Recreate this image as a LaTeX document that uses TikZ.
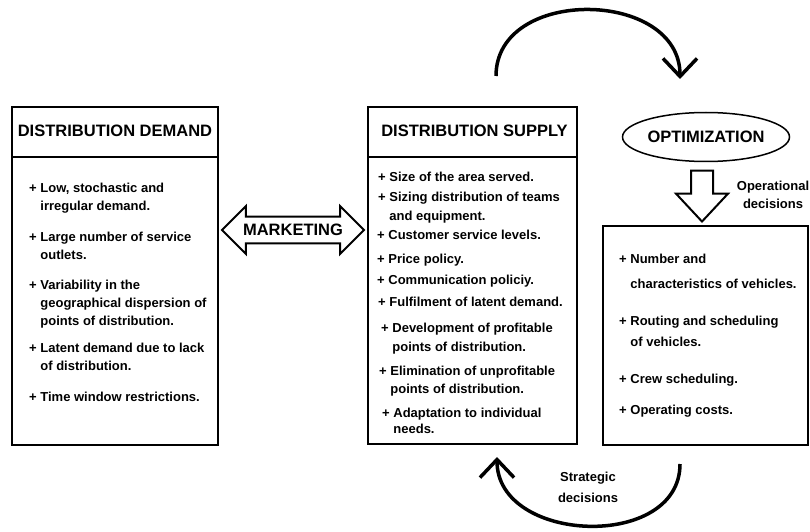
\documentclass[tikz,border=0pt]{standalone}
\usepackage{fontspec}
\setmainfont{Liberation Sans}
\usetikzlibrary{shapes.geometric,shapes.arrows,arrows.meta}

\begin{document}
\begin{tikzpicture}
[x=1pt,y=1pt,
 box/.style={draw,line width=2pt,inner sep=0pt},
 title/.style={font=\fontsize{16.5}{20}\selectfont\bfseries,inner sep=0pt,anchor=base},
 entry/.style={font=\fontsize{13}{18}\selectfont\bfseries,inner sep=0pt,anchor=base west,align=left},
 note/.style={font=\fontsize{13}{18}\selectfont\bfseries,inner sep=0pt,anchor=base,align=center},
 cyclearrow/.style={line width=3.5pt,-{Straight Barb[length=18pt,width=34pt]}}]
\useasboundingbox (0,0) rectangle (810,531);

% the three boxes
\node[box,minimum width=206,minimum height=338] (demand) at (115,255) {};
\node[box,minimum width=209,minimum height=337] (supply) at (472.5,255.5) {};
\node[box,minimum width=205,minimum height=219] (vehicles) at (705.5,195.5) {};
\coordinate (sep) at (0,374);
\draw[line width=2pt] (demand.west |- sep) -- (demand.east |- sep);
\draw[line width=2pt] (supply.west |- sep) -- (supply.east |- sep);

\node[title] (demhead) at (115,394) {DISTRIBUTION DEMAND};
\node[title] (suphead) at (474.5,394) {DISTRIBUTION SUPPLY};
\node[title,draw,ellipse,anchor=center,line width=1.5pt,minimum width=167,minimum height=49] (opt) at (706,394) {OPTIMIZATION};

% demand (y = baseline of last line)
\node[entry] (d1) at (29,321) {+ Low, stochastic and\\\hphantom{+ }irregular demand.};
\node[entry] (d2) at (29,272) {+ Large number of service\\\hphantom{+ }outlets.};
\node[entry] (d3) at (29,206) {+ Variability in the\\\hphantom{+ }geographical dispersion of\\\hphantom{+ }points of distribution.};
\node[entry] (d4) at (29,161) {+ Latent demand due to lack\\\hphantom{+ }of distribution.};
\node[entry] (d5) at (29,130) {+ Time window restrictions.};

% supply
\node[entry] (s1) at (378,350) {+ Size of the area served.};
\node[entry] (s2) at (378,311) {+ Sizing distribution of teams\\[1pt]\hphantom{+ }and equipment.};
\node[entry] (s3) at (377,292) {+ Customer service levels.};
\node[entry] (s4) at (377,268) {+ Price policy.};
\node[entry] (s5) at (377,247) {+ Communication policiy.};
\node[entry] (s6) at (378,225) {+ Fulfilment of latent demand.};
\node[entry] (s7) at (381,180) {+ Development of profitable\\[1pt]\hphantom{+ }points of distribution.};
\node[entry] (s8) at (379,138) {+ Elimination of unprofitable\\\hphantom{+ }points of distribution.};
\node[entry] (s9) at (382,98) {+ Adaptation to individual\\[-2pt]\hphantom{+ }needs.};

% vehicles
\node[entry] (v1) at (619,243) {+ Number and\\[7pt]\hphantom{+ }characteristics of vehicles.};
\node[entry] (v2) at (619,185) {+ Routing and scheduling\\[3pt]\hphantom{+ }of vehicles.};
\node[entry] (v3) at (619,148) {+ Crew scheduling.};
\node[entry] (v4) at (619,117) {+ Operating costs.};

% arrows
\node[title,draw,double arrow,anchor=center,line width=2pt,inner xsep=4pt,inner ysep=6.5pt,
  double arrow head extend=10.5pt,minimum height=142] (mkt) at (293,301) {MARKETING};
\node[draw,single arrow,shape border rotate=270,line width=2pt,inner xsep=10pt,inner ysep=0pt,
  single arrow head extend=15pt,single arrow tip angle=86,minimum height=51,anchor=tip] (opdown) at (702,308) {};
\node[note] (opnote) at (773,323) {Operational\\decisions};
\node[note] (stratnote) at (588,29) {Strategic\\[3pt]decisions};

\coordinate (upA) at (496,455);
\coordinate (upB) at (680,452);
\draw[cyclearrow] (upA) .. controls +(0,90) and +(0,90) .. (upB);
\coordinate (lowA) at (680,67);
\coordinate (lowB) at (497,74);
\draw[cyclearrow] (lowA) .. controls +(0,-87) and +(0,-87) .. (lowB);
\end{tikzpicture}
\end{document}
